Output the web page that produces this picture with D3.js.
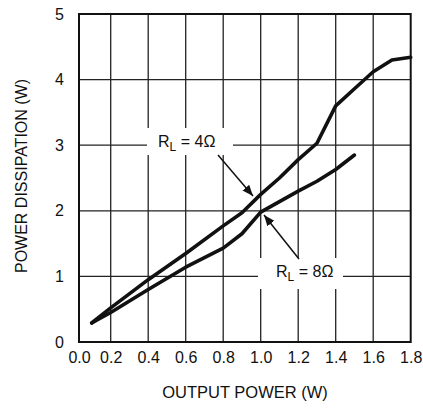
<!DOCTYPE html>
<html lang="en">
<head>
<meta charset="utf-8">
<title>Power dissipation vs output power</title>
<script src="https://cdn.jsdelivr.net/npm/d3@7"></script>
<style>
  body { margin: 0; background: #fff; }
  text { font-family: "Liberation Sans", Arial, sans-serif; fill: #111; }
</style>
</head>
<body>
<script>
// data
var xTicks = [0, 0.2, 0.4, 0.6, 0.8, 1.0, 1.2, 1.4, 1.6, 1.8];
var yTicks = [0, 1, 2, 3, 4, 5];

var pOut4 = [0.08, 0.2, 0.4, 0.6, 0.8, 0.9, 1.0, 1.1, 1.2, 1.3, 1.4, 1.5, 1.6, 1.7, 1.8];
var pDis4 = [0.29, 0.52, 0.95, 1.35, 1.77, 1.97, 2.25, 2.5, 2.78, 3.03, 3.6, 3.86, 4.12, 4.3, 4.34];

var pOut8 = [0.08, 0.2, 0.4, 0.6, 0.8, 0.9, 1.0, 1.2, 1.3, 1.4, 1.5];
var pDis8 = [0.29, 0.45, 0.8, 1.14, 1.43, 1.65, 1.98, 2.3, 2.45, 2.63, 2.85];

var w = 423, h = 410;
var padL = 79, padR = 410.7, padT = 14, padB = 342;

var svg = d3.select("body").append("svg")
  .attr("width", w)
  .attr("height", h);

// first division of the printed axis is a bit narrower than the rest
var x = d3.scaleLinear().domain([0, 0.2, 1.8]).range([padL, 110.7, padR]);
var y = d3.scaleLinear().domain([0, 5]).range([padB, padT]);

// grid
svg.append("g").selectAll("line")
  .data(xTicks.slice(1, -1))
  .enter().append("line")
  .attr("x1", function(d) { return x(d); })
  .attr("x2", function(d) { return x(d); })
  .attr("y1", padT).attr("y2", padB)
  .attr("stroke", "#222").attr("stroke-width", 1.3);

svg.append("g").selectAll("line")
  .data(yTicks.slice(1, -1))
  .enter().append("line")
  .attr("y1", function(d) { return y(d); })
  .attr("y2", function(d) { return y(d); })
  .attr("x1", padL).attr("x2", padR)
  .attr("stroke", "#222").attr("stroke-width", 1.3);

// axes, labels only
var xAxis = d3.axisBottom(x).tickValues(xTicks).tickSize(0).tickPadding(10)
  .tickFormat(d3.format(".1f"));
var gx = svg.append("g").attr("transform", "translate(0," + padB + ")").call(xAxis);
gx.select(".domain").remove();
gx.selectAll("text").attr("font-size", "16px").attr("font-family", "Liberation Sans, Arial, sans-serif").attr("fill", "#111");

var yAxis = d3.axisLeft(y).tickValues(yTicks).tickSize(0).tickPadding(15)
  .tickFormat(d3.format("d"));
var gy = svg.append("g").attr("transform", "translate(" + padL + ",0)").call(yAxis);
gy.select(".domain").remove();
gy.selectAll("text").attr("font-size", "16px").attr("font-family", "Liberation Sans, Arial, sans-serif").attr("fill", "#111");

// frame
svg.append("rect")
  .attr("x", padL).attr("y", padT)
  .attr("width", padR - padL).attr("height", padB - padT)
  .attr("fill", "none").attr("stroke", "#111").attr("stroke-width", 2);

// label boxes blank out the grid
svg.append("rect").attr("x", 147).attr("y", 128).attr("width", 86).attr("height", 27).attr("fill", "#fff");
svg.append("rect").attr("x", 258).attr("y", 258).attr("width", 85).attr("height", 31).attr("fill", "#fff");

// curves
var line = d3.line()
  .x(function(d) { return x(d[0]); })
  .y(function(d) { return y(d[1]); });

svg.append("path")
  .datum(d3.zip(pOut4, pDis4))
  .attr("d", line)
  .attr("fill", "none").attr("stroke", "#111").attr("stroke-width", 3.6)
  .attr("stroke-linejoin", "round").attr("stroke-linecap", "round");

svg.append("path")
  .datum(d3.zip(pOut8, pDis8))
  .attr("d", line)
  .attr("fill", "none").attr("stroke", "#111").attr("stroke-width", 3.6)
  .attr("stroke-linejoin", "round").attr("stroke-linecap", "round");

// arrows
svg.append("defs").append("marker")
  .attr("id", "head")
  .attr("viewBox", "0 0 10 10")
  .attr("refX", 10).attr("refY", 5)
  .attr("markerWidth", 11).attr("markerHeight", 11)
  .attr("markerUnits", "userSpaceOnUse")
  .attr("orient", "auto")
  .append("path").attr("d", "M0,1 L10,5 L0,9 Z").attr("fill", "#111");

svg.append("line")
  .attr("x1", 218).attr("y1", 155).attr("x2", 253).attr("y2", 196)
  .attr("stroke", "#111").attr("stroke-width", 1.5).attr("marker-end", "url(#head)");

svg.append("line")
  .attr("x1", 299).attr("y1", 259).attr("x2", 264).attr("y2", 215)
  .attr("stroke", "#111").attr("stroke-width", 1.5).attr("marker-end", "url(#head)");

function rLabel(tx, ty, ohms) {
  var t = svg.append("text").attr("x", tx).attr("y", ty).attr("font-size", "16px");
  t.append("tspan").text("R");
  t.append("tspan").attr("font-size", "12px").attr("dy", 4).text("L");
  t.append("tspan").attr("dy", -4).text(" = " + ohms + "\u03A9");
}
rLabel(158, 147, 4);
rLabel(276, 277, 8);

// axis titles
svg.append("text")
  .attr("x", 245).attr("y", 398)
  .attr("text-anchor", "middle")
  .attr("font-size", "16.5px")
  .text("OUTPUT POWER (W)");

svg.append("text")
  .attr("transform", "translate(27,176) rotate(-90)")
  .attr("text-anchor", "middle")
  .attr("font-size", "16px")
  .text("POWER DISSIPATION (W)");
</script>
</body>
</html>
